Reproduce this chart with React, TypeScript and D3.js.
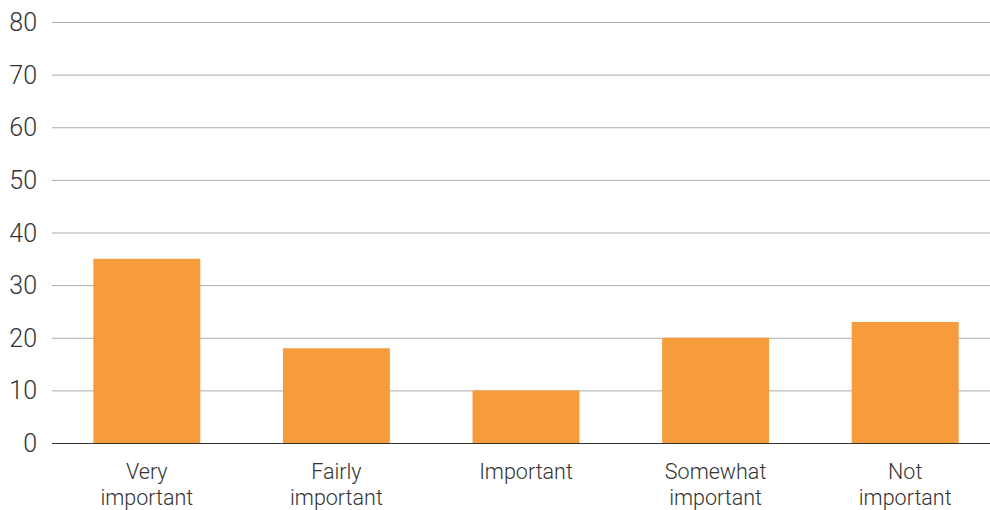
import { useEffect, useRef } from 'react';
import * as d3 from 'd3';

const categories = ['Very important', 'Fairly important', 'Important', 'Somewhat important', 'Not important'];
const labelLines = [['Very', 'important'], ['Fairly', 'important'], ['Important'], ['Somewhat', 'important'], ['Not', 'important']];
const values = [35, 18, 10, 20, 23];
const yTicks = [0, 10, 20, 30, 40, 50, 60, 70, 80];

export default function App() {
  const svgRef = useRef<SVGSVGElement>(null);
  const width = 990;
  const height = 510;

  useEffect(() => {
    if (!svgRef.current) return;
    const svg = d3.select(svgRef.current);
    svg.selectAll('*').remove();

    const font = 'Roboto, "Helvetica Neue", Arial, sans-serif';

    const x = d3.scaleBand<string>()
      .domain(categories)
      .range([52, 1000])
      .padding(0.436)
      .paddingOuter(0.218);

    const y = d3.scaleLinear()
      .domain([0, 80])
      .range([443, 22]);

    // grid lines
    svg.append('g')
      .selectAll('line')
      .data(yTicks.filter(t => t > 0))
      .enter()
      .append('line')
      .attr('x1', 52)
      .attr('x2', width)
      .attr('y1', d => y(d) + 0.5)
      .attr('y2', d => y(d) + 0.5)
      .attr('stroke', '#ababab')
      .attr('stroke-width', 1);

    // y tick labels
    svg.append('g')
      .selectAll('text')
      .data(yTicks)
      .enter()
      .append('text')
      .attr('x', 37)
      .attr('y', d => y(d))
      .attr('dy', '0.36em')
      .attr('text-anchor', 'end')
      .style('font-family', font)
      .style('font-weight', 300)
      .style('font-size', '25px')
      .style('fill', '#333')
      .text(d => d);

    // bars
    svg.append('g')
      .selectAll('rect')
      .data(values)
      .enter()
      .append('rect')
      .attr('x', (_, i) => x(categories[i]) || 0)
      .attr('width', x.bandwidth())
      .attr('y', d => y(d))
      .attr('height', d => y(0) - y(d))
      .attr('fill', '#f79c3c');

    // baseline
    svg.append('line')
      .attr('x1', 52)
      .attr('x2', width)
      .attr('y1', y(0) + 0.5)
      .attr('y2', y(0) + 0.5)
      .attr('stroke', '#333')
      .attr('stroke-width', 1.2);

    // category labels
    const labels = svg.append('g')
      .selectAll('text')
      .data(categories)
      .enter()
      .append('text')
      .attr('x', d => (x(d) || 0) + x.bandwidth() / 2)
      .attr('y', 479)
      .attr('text-anchor', 'middle')
      .style('font-family', font)
      .style('font-weight', 300)
      .style('font-size', '21.5px')
      .style('fill', '#333');

    labels.each(function (_, i) {
      const t = d3.select(this);
      const cx = t.attr('x');
      labelLines[i].forEach((line, j) => {
        t.append('tspan')
          .attr('x', cx)
          .attr('dy', j === 0 ? 0 : 26)
          .text(line);
      });
    });
  }, []);

  return (
    <svg
      ref={svgRef}
      width={width}
      height={height}
      style={{ position: 'absolute', left: 0, top: 0, background: '#fff' }}
    />
  );
}
